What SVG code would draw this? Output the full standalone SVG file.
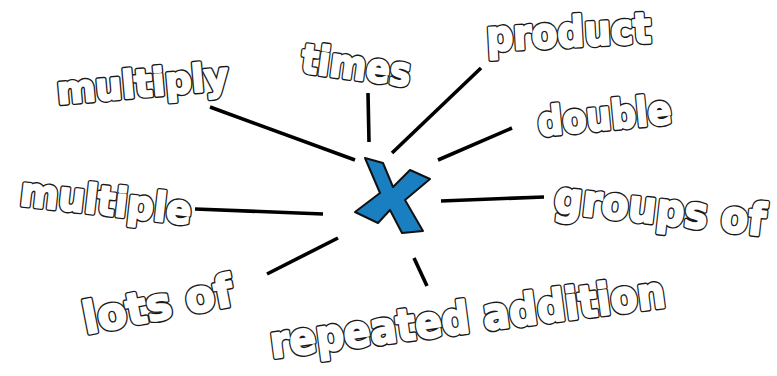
<svg xmlns="http://www.w3.org/2000/svg" width="777" height="376" viewBox="0 0 777 376">
<style>
text{font-family:"DejaVu Sans","Liberation Sans",sans-serif;font-weight:bold;stroke-linejoin:round}
.o{fill:#1a1a1a;stroke:#1a1a1a;stroke-width:5}
.i{fill:#fff;stroke:#fff;stroke-width:2.2}
.c line{stroke:#000;stroke-width:3.6;stroke-linecap:butt}
</style>
<defs>
<text id="t1" transform="translate(58,104) rotate(-5)" font-size="38" textLength="172" lengthAdjust="spacingAndGlyphs">multiply</text>
<text id="t2" transform="translate(300,72) rotate(7.5)" font-size="40" textLength="110" lengthAdjust="spacingAndGlyphs">times</text>
<text id="t3" transform="translate(487,51) rotate(-3)" font-size="42" textLength="165" lengthAdjust="spacingAndGlyphs">product</text>
<text id="t4" transform="translate(539,136) rotate(-5.5)" font-size="40" textLength="134" lengthAdjust="spacingAndGlyphs">double</text>
<text id="t5" transform="translate(553,212) rotate(6.4)" font-size="44" textLength="212" lengthAdjust="spacingAndGlyphs">groups of</text>
<text id="t6" transform="translate(19,205) rotate(6.5)" font-size="40" textLength="172" lengthAdjust="spacingAndGlyphs">multiple</text>
<text id="t7" transform="translate(86,334) rotate(-11)" font-size="44" textLength="152" lengthAdjust="spacingAndGlyphs">lots of</text>
<text id="t8" transform="translate(272,358) rotate(-7.4)" font-size="44" textLength="398" lengthAdjust="spacingAndGlyphs">repeated addition</text>
</defs>
<rect width="777" height="376" fill="#fff"/>
<g class="c" id="connectors">
<line x1="210" y1="107" x2="355" y2="160"/>
<line x1="368" y1="93" x2="369" y2="142"/>
<line x1="392" y1="153" x2="481" y2="68"/>
<line x1="438" y1="160" x2="512" y2="128"/>
<line x1="441" y1="201" x2="544" y2="197"/>
<line x1="195" y1="209" x2="323" y2="214"/>
<line x1="267" y1="274" x2="338" y2="238"/>
<line x1="414" y1="258" x2="427" y2="286"/>
</g>
<g id="center">
<polygon points="365,158 383,163 393,187 410,170 430,179 405,200 423,231 402,233 390,210 378,223 355,212 380,193" fill="#1a7fc0" stroke="#111" stroke-width="2" stroke-linejoin="round"/>
</g>
<g id="multiply"><use href="#t1" class="o"/><use href="#t1" class="i"/></g>
<g id="times"><use href="#t2" class="o"/><use href="#t2" class="i"/></g>
<g id="product"><use href="#t3" class="o"/><use href="#t3" class="i"/></g>
<g id="double"><use href="#t4" class="o"/><use href="#t4" class="i"/></g>
<g id="groups-of"><use href="#t5" class="o"/><use href="#t5" class="i"/></g>
<g id="multiple"><use href="#t6" class="o"/><use href="#t6" class="i"/></g>
<g id="lots-of"><use href="#t7" class="o"/><use href="#t7" class="i"/></g>
<g id="repeated-addition"><use href="#t8" class="o"/><use href="#t8" class="i"/></g>
</svg>
